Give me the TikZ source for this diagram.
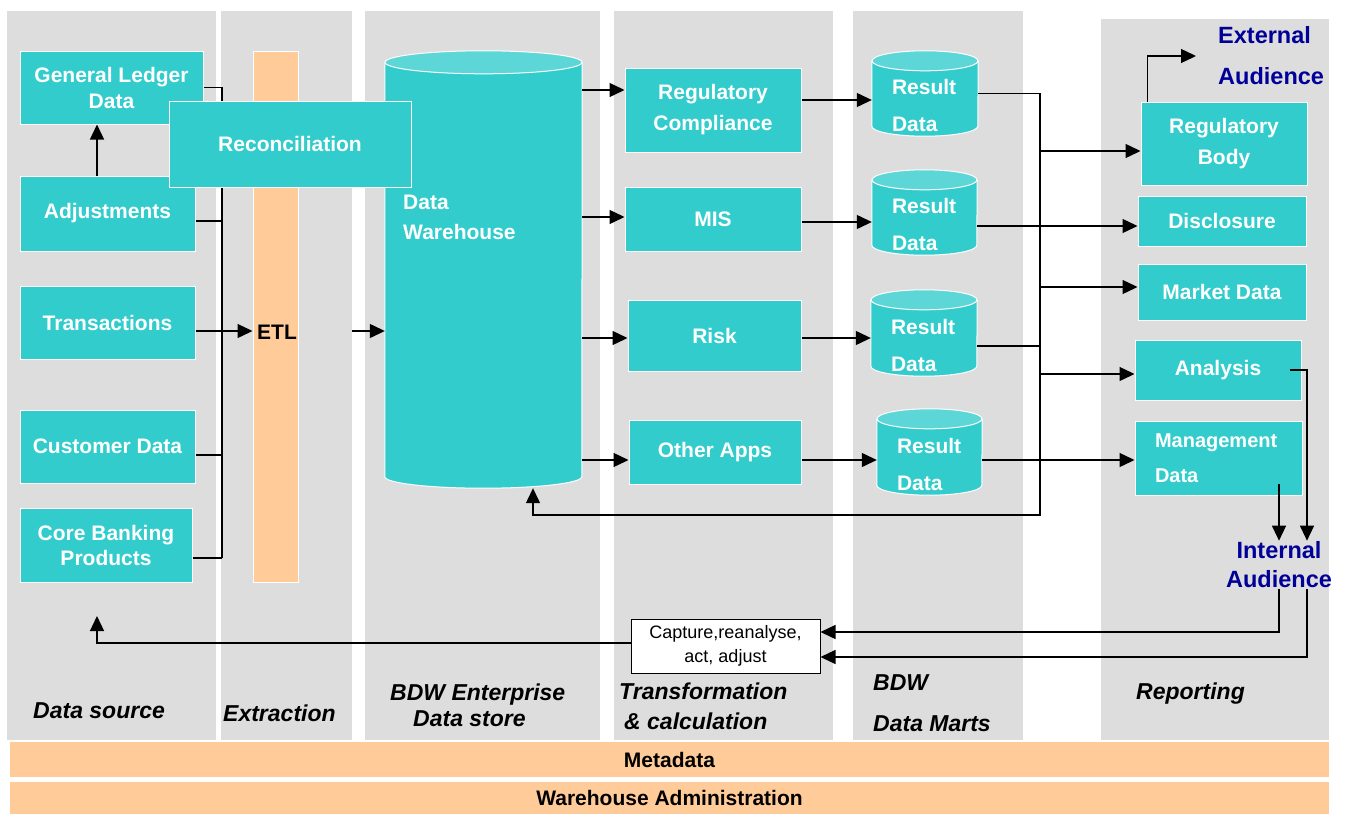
\documentclass[tikz,border=0pt]{standalone}
\usepackage{fontspec}
\setmainfont{Liberation Sans}
\usetikzlibrary{arrows.meta}
\definecolor{laneGray}{HTML}{DDDDDD}
\definecolor{dwTeal}{HTML}{33CCCC}
\definecolor{dwTop}{HTML}{5CD6D6}
\definecolor{bandPeach}{HTML}{FFCC99}
\definecolor{audBlue}{HTML}{000099}

\begin{document}
\begin{tikzpicture}[x=1pt, y=-1pt,
	lane/.style={fill=laneGray},
	box/.style={rectangle, fill=dwTeal, draw=white, line width=1pt, text=white, align=center, inner sep=1pt, font=\bfseries\fontsize{21}{26}\selectfont},
	store/.style={rectangle, inner sep=0pt},
	storetext/.style={text=white, align=left, inner sep=0pt, font=\bfseries\fontsize{21}{37}\selectfont},
	band/.style={rectangle, fill=bandPeach, inner sep=0pt, font=\bfseries\fontsize{21}{24}\selectfont},
	stage/.style={align=left, inner sep=0pt, font=\bfseries\itshape\fontsize{23}{26}\selectfont},
	audience/.style={text=audBlue, inner sep=1pt, font=\bfseries\fontsize{23.5}{29}\selectfont},
	wire/.style={line width=1.3pt},
	flow/.style={wire, -{Triangle[length=15pt, width=14pt]}}]
	\useasboundingbox (0,0) rectangle (1348,814);
	% Lanes and bands:
	\foreach \xa/\xb in {7/216, 221/352, 365/600, 614/833, 853/1023}
		\fill[lane] (\xa,11) rectangle (\xb,740);
	\fill[lane] (1101,19) rectangle (1329,740);
	\node[band, minimum width=1319, minimum height=35] (meta) at (669.5,759.5) {Metadata};
	\node[band, minimum width=1319, minimum height=32] (admin) at (669.5,798) {Warehouse Administration};
	\node[stage, anchor=west] (lbsrc) at (33,711) {Data source};
	\node[stage, anchor=west] (lbext) at (223,713) {Extraction};
	\node[stage, anchor=west] (lbdw) at (390,705) {BDW Enterprise\\\hspace{23pt}Data store};
	\node[stage, anchor=west, font=\bfseries\itshape\fontsize{23}{30}\selectfont] (lbcalc) at (619,706) {Transformation\\\hspace{5pt}\& calculation};
	\node[stage, anchor=west, font=\bfseries\itshape\fontsize{23}{41}\selectfont] (lbmart) at (873,703.5) {BDW\\Data Marts};
	\node[stage, anchor=west] (lbrep) at (1136,694) {Reporting};

	% Sources and extraction:
	\node[box, minimum width=183, minimum height=73] (gl) at (111.5,87.5) {General Ledger\\Data};
	\node[box, minimum width=175, minimum height=75] (adj) at (107.5,213.5) {Adjustments};
	\node[box, minimum width=175, minimum height=73] (trans) at (107.5,322.5) {Transactions};
	\node[box, minimum width=175, minimum height=73] (cust) at (107.5,446.5) {Customer Data};
	\node[box, minimum width=172, minimum height=74, font=\bfseries\fontsize{21}{25}\selectfont] (core) at (106,545) {Core Banking\\Products};
	\node[rectangle, fill=bandPeach, draw=white, line width=1pt, minimum width=45, minimum height=531] (etl) at (275.5,316.5) {};
	\node[anchor=west, inner sep=0pt, font=\bfseries\fontsize{21}{24}\selectfont] (etltxt) at (257,332) {ETL};
	\coordinate (bus) at (222,558);
	\draw[wire] (gl.east) -| (bus);
	\draw[wire] (adj.east |- 0,221) -- (bus |- 0,221);
	\draw[wire] (cust.east |- 0,455) -- (bus |- 0,455);
	\draw[wire] (core.east |- bus) -- (bus);
	\draw[flow] (trans.east |- 0,331) -- (etl.west |- 0,331);
	\draw[flow] (adj.north -| 97,0) -- (gl.south -| 97,0);

	% Stores (warehouse and result data):
	\node[store, minimum width=197, minimum height=437] (dw) at (483.5,269.5) {};
	\node[store, minimum width=106, minimum height=85] (rd1) at (925,93.5) {};
	\node[store, minimum width=105, minimum height=85] (rd2) at (924.5,212.5) {};
	\node[store, minimum width=106, minimum height=86] (rd3) at (924,333) {};
	\node[store, minimum width=105, minimum height=86] (rd4) at (929.5,452) {};
	\foreach \c/\rx/\ry in {dw/98.5/11.5, rd1/53/10, rd2/52.5/10, rd3/53/10, rd4/52.5/10} {
		\filldraw[fill=dwTeal, draw=white, line width=1pt] ([yshift=-\ry pt]\c.north west) -- ([yshift=\ry pt]\c.south west)
			arc[start angle=180, end angle=360, x radius=\rx pt, y radius=\ry pt] -- ([yshift=-\ry pt]\c.north east);
		\filldraw[fill=dwTop, draw=white, line width=1pt] ([yshift=-\ry pt]\c.north) ellipse[x radius=\rx pt, y radius=\ry pt];
	}
	\node[storetext, anchor=west, font=\bfseries\fontsize{21}{30}\selectfont] (dwtxt) at (403,217) {Data\\Warehouse};
	\node[storetext, anchor=west] (rd1txt) at ([xshift=20pt, yshift=-12pt]rd1.west) {Result\\Data};
	\node[storetext, anchor=west] (rd2txt) at ([xshift=20pt, yshift=-12pt]rd2.west) {Result\\Data};
	\node[storetext, anchor=west] (rd3txt) at ([xshift=20pt, yshift=-12pt]rd3.west) {Result\\Data};
	\node[storetext, anchor=west] (rd4txt) at ([xshift=20pt, yshift=-12pt]rd4.west) {Result\\Data};
	\coordinate (etlout) at (352,331);
	\draw[flow] (etlout) -- (dw.west |- etlout);
	\node[box, minimum width=242, minimum height=86] (recon) at (290,144) {Reconciliation};

	% Applications:
	\node[box, minimum width=176, minimum height=84, font=\bfseries\fontsize{21}{31}\selectfont] (regc) at (713,110) {Regulatory\\Compliance};
	\node[box, minimum width=176, minimum height=64] (mis) at (713,219) {MIS};
	\node[box, minimum width=173, minimum height=71] (risk) at (714.5,335.5) {Risk};
	\node[box, minimum width=172, minimum height=64] (other) at (715,452) {Other Apps};
	\draw[flow] (dw.east |- 0,90) -- (regc.west |- 0,90);
	\draw[flow] (dw.east |- 0,217) -- (mis.west |- 0,217);
	\draw[flow] (dw.east |- 0,338) -- (risk.west |- 0,338);
	\draw[flow] (dw.east |- 0,460) -- (other.west |- 0,460);
	\draw[flow] (regc.east |- 0,100) -- (rd1.west |- 0,100);
	\draw[flow] (mis.east |- 0,222) -- (rd2.west |- 0,222);
	\draw[flow] (risk.east |- 0,338) -- (rd3.west |- 0,338);
	\draw[flow] (other.east |- 0,460) -- (rd4.west |- 0,460);

	% Reporting:
	\node[box, minimum width=166, minimum height=83, font=\bfseries\fontsize{21}{31}\selectfont] (regbody) at (1224,143.5) {Regulatory\\Body};
	\node[box, minimum width=168, minimum height=50] (discl) at (1222,221) {Disclosure};
	\node[box, minimum width=168, minimum height=56] (mkt) at (1222,292) {Market Data};
	\node[box, minimum width=166, minimum height=60] (anal) at (1218,370) {Analysis};
	\node[box, minimum width=167, minimum height=74, text width=127pt, align=left, font=\bfseries\fontsize{20}{35}\selectfont] (mgmt) at (1218.5,458) {Management\\Data};
	\coordinate (rbus) at (1040,515);
	\draw[flow] (rd1.east) -| (rbus) -| ([xshift=49.5pt]dw.south);
	\draw[flow] (rbus |- 0,151) -- (regbody.west |- 0,151);
	\draw[flow] (rd2.east |- 0,226) -- (discl.west |- 0,226);
	\draw[flow] (rbus |- 0,287) -- (mkt.west |- 0,287);
	\draw[wire] (rd3.east |- 0,346) -- (rbus |- 0,346);
	\draw[flow] (rbus |- 0,374) -- (anal.west |- 0,374);
	\draw[flow] (rd4.east |- 0,460) -- (mgmt.west |- 0,460);
	\node[audience, anchor=west, align=left, font=\bfseries\fontsize{23.5}{41}\selectfont] (extaud) at (1217,55.5) {External\\Audience};
	\node[audience, align=center] (intaud) at (1279,565) {Internal\\Audience};
	\coordinate (extin) at (1196,56);
	\draw[flow] ([xshift=7pt]regbody.north west) |- (extin);
	\draw[flow] ([xshift=-12pt]anal.east) -| ([xshift=28pt]intaud.north);
	\draw[flow] (intaud.north |- 0,484) -- (intaud.north);

	% Feedback:
	\node[draw=black, fill=white, line width=1pt, minimum width=189, minimum height=54, align=center, inner sep=0pt, font=\fontsize{18}{24}\selectfont] (capture) at (725.5,646) {Capture,reanalyse,\\act, adjust};
	\draw[flow] (intaud.south) |- (capture.east |- 0,632);
	\draw[flow] ([xshift=28pt]intaud.south) |- (capture.east |- 0,657);
	\coordinate (srcback) at (97,616);
	\draw[flow] (capture.west |- 0,643) -| (srcback);
\end{tikzpicture}
\end{document}
